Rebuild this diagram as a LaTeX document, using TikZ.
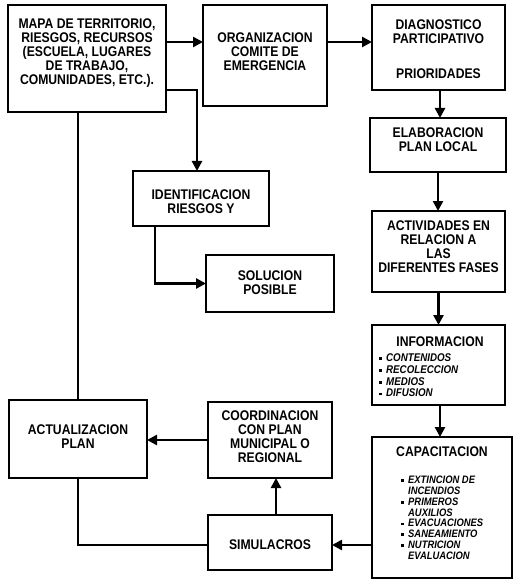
\documentclass[tikz,border=0pt]{standalone}
\usepackage{fontspec}
\setmainfont{Liberation Sans}[FakeStretch=0.87]
\usetikzlibrary{arrows.meta,calc}
\newcommand\ttlfont{\fontsize{14}{14}\selectfont\bfseries}
\newcommand\hdfont{\fontsize{14}{14}\selectfont\bfseries}
\newcommand\lstfont{\fontsize{10.8}{10.8}\selectfont\bfseries\itshape}
\newcommand\lstfontB{\fontsize{11.2}{11.8}\selectfont\bfseries\itshape}
\newcommand\bul{\makebox[7pt][l]{\rule[1.5pt]{2.4pt}{2.8pt}}}
\newcommand\nob{\makebox[7pt][l]{}}
\tikzset{
  box/.style={draw, line width=1.4pt, inner sep=0pt, outer sep=0pt},
  ttl/.style={font=\ttlfont, align=center, inner sep=0pt},
  lst/.style={font=\lstfont, align=left, inner sep=0pt, anchor=north west},
  conn/.style={line width=2.6pt},
  arr/.style={conn, -{Triangle[length=10pt,width=10pt]}},
}
\begin{document}
\begin{tikzpicture}[x=1pt,y=-1pt]
\useasboundingbox[fill=white] (0,0) rectangle (515,588);
% boxes
\node[box, minimum width=158pt, minimum height=107pt] (mapa) at (87,58.5) {};
\node[ttl] (mapaT) at (87,53) {MAPA DE TERRITORIO,\\RIESGOS, RECURSOS\\(ESCUELA, LUGARES\\DE TRABAJO,\\COMUNIDADES, ETC.).};
\node[box, minimum width=124pt, minimum height=101pt] (org) at (265,55.5) {};
\node[ttl] (orgT) at (265,52) {ORGANIZACION\\COMITE DE\\EMERGENCIA};
\node[box, minimum width=133pt, minimum height=85pt] (diag) at (438.5,47.5) {};
\node[ttl] (diagT) at (438.5,49) {DIAGNOSTICO\\PARTICIPATIVO\\[21pt]PRIORIDADES};
\node[box, minimum width=136pt, minimum height=54pt] (elab) at (438,145) {};
\node[ttl] (elabT) at (438,139.5) {ELABORACION\\PLAN LOCAL};
\node[box, minimum width=133pt, minimum height=81pt] (activ) at (438.5,251.5) {};
\node[ttl] (activT) at (438.5,247) {ACTIVIDADES EN\\RELACION A\\LAS\\DIFERENTES FASES};
\node[box, minimum width=136pt, minimum height=55pt] (ident) at (201,198.5) {};
\node[ttl] (identT) at (201,201.5) {IDENTIFICACION\\RIESGOS Y};
\node[box, minimum width=128pt, minimum height=57pt] (soluc) at (270,283.5) {};
\node[ttl] (solucT) at (270,283) {SOLUCION\\POSIBLE};
\node[box, minimum width=133pt, minimum height=80pt] (info) at (438.5,365) {};
\node[font=\hdfont, inner sep=0pt] (infoT) at (440,342) {INFORMACION};
\node[lst, font=\lstfontB] (infoL) at (379,353.5) {\bul CONTENIDOS\\\bul RECOLECCION\\\bul MEDIOS\\\bul DIFUSION};
\node[box, minimum width=140pt, minimum height=141pt] (capac) at (442,507.5) {};
\node[font=\hdfont, inner sep=0pt] (capacT) at (442,452) {CAPACITACION};
\node[lst] (capacL) at (401,476) {\bul EXTINCION DE\\\nob INCENDIOS\\\bul PRIMEROS\\\nob AUXILIOS\\\bul EVACUACIONES\\\bul SANEAMIENTO\\\bul NUTRICION\\\nob EVALUACION};
\node[box, minimum width=124pt, minimum height=55pt] (simul) at (270,542.5) {};
\node[ttl] (simulT) at (270,545) {SIMULACROS};
\node[box, minimum width=124pt, minimum height=76pt] (coord) at (270,440) {};
\node[ttl] (coordT) at (270,436.5) {COORDINACION\\CON PLAN\\MUNICIPAL O\\REGIONAL};
\node[box, minimum width=138pt, minimum height=78pt] (actual) at (78,439) {};
\node[ttl] (actualT) at (78,436.5) {ACTUALIZACION\\PLAN};
% connectors
\draw[arr] ([yshift=-37pt]mapa.north east) -- ([yshift=-37pt]mapa.north east -| org.west);
\draw[arr] ([yshift=-37pt]org.north east) -- ([yshift=-37pt]org.north east -| diag.west);
\draw[arr] ([xshift=1.5pt]diag.south) -- ([xshift=1.5pt]diag.south |- elab.north);
\draw[arr] (elab.south) -- (elab.south |- activ.north);
\draw[arr] (activ.south) -- (activ.south |- info.north);
\draw[arr] ([xshift=1.5pt]info.south) -- ([xshift=1.5pt]info.south |- capac.north);
\draw[arr] ([yshift=-2.5pt]simul.east -| capac.west) -- ([yshift=-2.5pt]simul.east);
\draw[arr] ([xshift=6pt]simul.north) -- ([xshift=6pt]coord.south);
\draw[arr] (coord.west) -- (coord.west -| actual.east);
\draw[conn] (actual.south) |- ([yshift=-2.5pt]simul.west);
\draw[conn] (actual.north) -- (actual.north |- mapa.south);
\draw[arr] ([yshift=22pt]mapa.south east) -| ([xshift=-4pt]ident.north);
\draw[arr] ([xshift=-46pt]ident.south) |- (soluc.west);
\end{tikzpicture}
\end{document}
